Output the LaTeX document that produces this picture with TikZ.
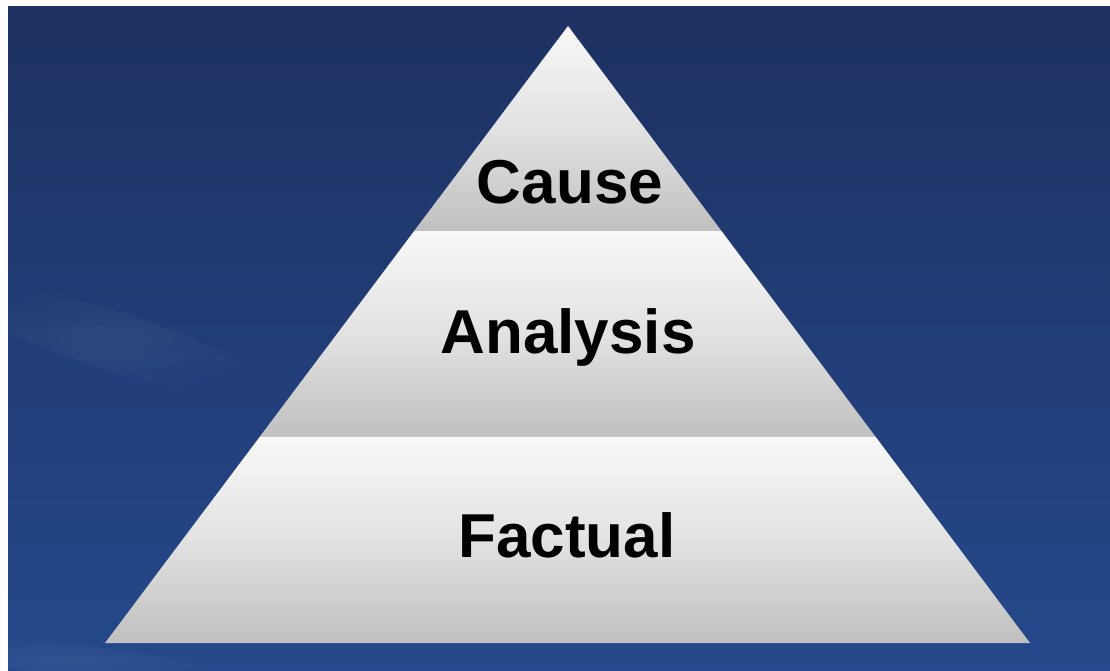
\documentclass[tikz,border=0pt]{standalone}
\usepackage{fontspec}
\setmainfont{Liberation Sans}
\usetikzlibrary{calc,fadings}
\definecolor{skytop}{HTML}{1E3162}
\definecolor{skymid}{HTML}{213D76}
\definecolor{skybot}{HTML}{25498C}
\definecolor{bandlight}{HTML}{F8F8F8}
\definecolor{bandmid}{HTML}{E2E2E2}
\definecolor{banddark}{HTML}{C0C0C0}
\tikzset{
  band/.style={top color=bandlight, bottom color=banddark, middle color=bandmid, draw=none},
  label/.style={font=\bfseries\fontsize{62}{62}\selectfont, text=black, anchor=base, inner sep=0pt},
  wisp/.style={fill=white, fill opacity=0.06, draw=none, path fading=fuzzy circle}
}
\tikzfading[name=fuzzy circle, inner color=transparent!0, outer color=transparent!100]
\begin{document}
\begin{tikzpicture}[x=1pt, y=-1pt]
  % page and white margin
  \fill[white] (0,0) rectangle (1110,671);
  \useasboundingbox (0,0) rectangle (1110,671);
  % blue backdrop
  \shade[top color=skytop, bottom color=skybot, middle color=skymid] (8,7) rectangle (1110,671);
  \begin{scope}
    \clip (8,7) rectangle (1110,671);
    \fill[wisp] (110,340) ellipse [x radius=170, y radius=30, rotate=-18];
    \fill[wisp] (70,660) ellipse [x radius=150, y radius=16, rotate=-6];
  \end{scope}
  % pyramid corners and band boundaries
  \coordinate (apex) at (568,26);
  \coordinate (bl) at (105,643);
  \coordinate (br) at (1030,643);
  \coordinate (l1) at ($(apex)!0.3323!(bl)$);
  \coordinate (r1) at ($(apex)!0.3323!(br)$);
  \coordinate (l2) at ($(apex)!0.6661!(bl)$);
  \coordinate (r2) at ($(apex)!0.6661!(br)$);
  % three shaded bands
  \shade[band] (apex) -- (r1) -- (l1) -- cycle;
  \shade[band] (l1) -- (r1) -- (r2) -- (l2) -- cycle;
  \shade[band] (l2) -- (r2) -- (br) -- (bl) -- cycle;
  % band labels
  \node[label] (cause) at (570,204) {Cause};
  \node[label] (analysis) at (568,353) {Analysis};
  \node[label] (factual) at (567,557) {Factual};
\end{tikzpicture}
\end{document}
